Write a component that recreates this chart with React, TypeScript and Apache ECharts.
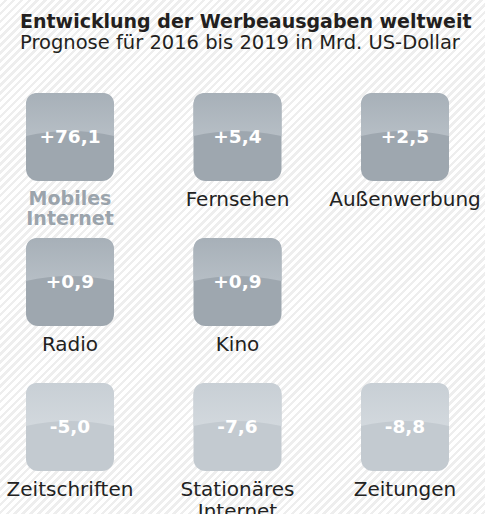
import React, { useEffect, useRef } from "react";
import * as echarts from "echarts";

const titleText = "Entwicklung der Werbeausgaben weltweit";
const subtitleText = "Prognose für 2016 bis 2019 in Mrd. US-Dollar";
const categories = [
  "Mobiles\nInternet",
  "Fernsehen",
  "Außenwerbung",
  "Radio",
  "Kino",
  "Zeitschriften",
  "Stationäres\nInternet",
  "Zeitungen",
];
const values = [76.1, 5.4, 2.5, 0.9, 0.9, -5.0, -7.6, -8.8];

// layout: number of tiles per row
const ROW_SIZES = [3, 2, 3];

function cellOf(i: number): [number, number] {
  let idx = i;
  for (let r = 0; r < ROW_SIZES.length; r++) {
    if (idx < ROW_SIZES[r]) return [idx, r];
    idx -= ROW_SIZES[r];
  }
  return [0, 0];
}

function fmt(v: number): string {
  const s = Math.abs(v).toFixed(1).replace(".", ",");
  return (v > 0 ? "+" : "-") + s;
}

const FONT = "'DejaVu Sans', sans-serif";

export default function App() {
  const ref = useRef<HTMLDivElement>(null);
  useEffect(() => {
    document.body.style.margin = "0";
    const chart = echarts.init(ref.current!, null, { renderer: "svg" });
    const maxVal = Math.max(...values);
    const data = values.map((v, i) => {
      const [c, r] = cellOf(i);
      return [c, r, v];
    });
    const half = 44;
    const rad = 12;
    chart.setOption({
      animation: false,
      backgroundColor: "transparent",
      title: [
        {
          text: titleText,
          left: 20,
          top: 11,
          padding: 0,
          textStyle: { fontFamily: FONT, fontWeight: "bold", fontSize: 19, color: "#231f20" },
        },
        {
          text: subtitleText,
          left: 20,
          top: 32,
          padding: 0,
          textStyle: { fontFamily: FONT, fontWeight: "normal", fontSize: 19.5, color: "#231f20" },
        },
      ],
      grid: { left: 70, right: 80, top: 137, bottom: 87 },
      xAxis: { type: "value", min: 0, max: 2, show: false },
      yAxis: { type: "value", min: 0, max: 2, inverse: true, show: false },
      series: [
        {
          type: "custom",
          data,
          clip: false,
          renderItem: (params: any, api: any) => {
            const i = params.dataIndex;
            const v = values[i];
            const [cx, cy] = api.coord([api.value(0), api.value(1)]);
            const pos = v > 0;
            const x0 = cx - half;
            const x1 = cx + half;
            const y0 = cy - half;
            const y1 = cy + half;
            const ye = cy - 1;
            const topPath =
              `M${x0} ${ye} L${x0} ${y0 + rad} Q${x0} ${y0} ${x0 + rad} ${y0} ` +
              `L${x1 - rad} ${y0} Q${x1} ${y0} ${x1} ${y0 + rad} L${x1} ${ye} ` +
              `Q${cx} ${ye - 10} ${x0} ${ye} Z`;
            const highlight = v === maxVal;
            return {
              type: "group",
              children: [
                {
                  type: "rect",
                  shape: { x: x0, y: y0, width: half * 2, height: half * 2, r: rad },
                  style: { fill: pos ? "#9ea7af" : "#c3cad0" },
                },
                {
                  type: "path",
                  shape: { pathData: topPath },
                  style: {
                    fill: new echarts.graphic.LinearGradient(0, 0, 0, 1, [
                      { offset: 0, color: pos ? "#a7b0b8" : "#c8cfd5" },
                      { offset: 1, color: pos ? "#b6bec5" : "#d2d8dd" },
                    ]),
                  },
                },
                {
                  type: "text",
                  x: cx,
                  y: cy - 1,
                  style: {
                    text: fmt(v),
                    align: "center",
                    verticalAlign: "middle",
                    fontFamily: FONT,
                    fontWeight: "bold",
                    fontSize: 18.5,
                    fill: "#ffffff",
                  },
                },
                {
                  type: "text",
                  x: cx,
                  y: y1 + 7,
                  style: {
                    text: categories[i],
                    align: "center",
                    verticalAlign: "top",
                    fontFamily: FONT,
                    fontWeight: highlight ? "bold" : "normal",
                    fontSize: highlight ? 19 : 20,
                    lineHeight: highlight ? 20 : 22,
                    fill: highlight ? "#9ba4ac" : "#222222",
                  },
                },
              ],
            };
          },
        },
      ],
    });
    return () => chart.dispose();
  }, []);
  return (
    <div
      ref={ref}
      style={{
        position: "absolute",
        left: 0,
        top: 0,
        width: 485,
        height: 514,
        background:
          "repeating-linear-gradient(135deg, #ffffff 0px, #ffffff 3px, #eeeeee 3px, #eeeeee 5.6px)",
      }}
    />
  );
}
